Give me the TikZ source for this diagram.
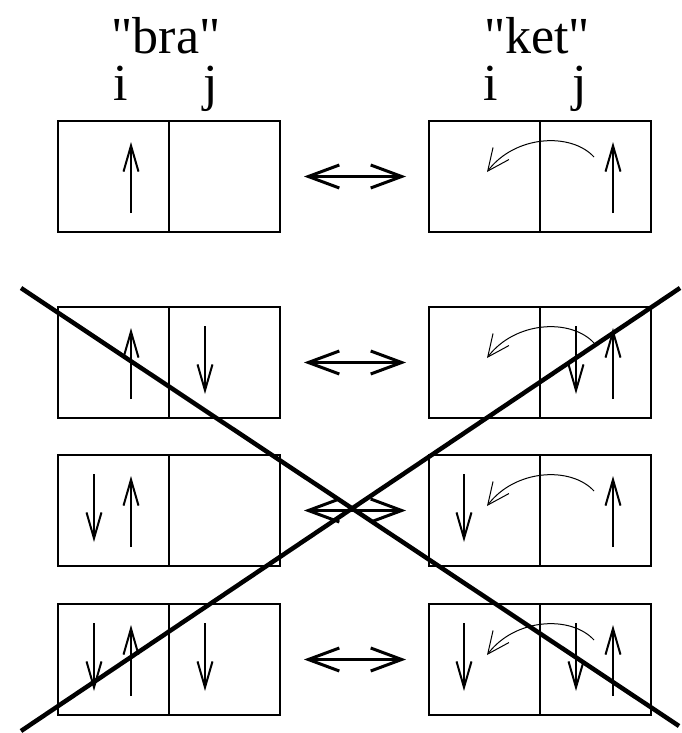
\documentclass[tikz,border=0pt]{standalone}
\usepackage{fontspec}
\setmainfont{Liberation Serif}[Ligatures=TeXOff]
\usetikzlibrary{arrows.meta}
\begin{document}
\begin{tikzpicture}[x=1pt,y=-1pt,
  cell/.style={draw,line width=2pt,minimum width=111pt,minimum height=111pt,inner sep=0pt,anchor=north west},
  lbl/.style={anchor=base,inner sep=0pt,font=\fontsize{52}{58}\selectfont},
  spin/.style={line width=2pt,-{Straight Barb[length=26pt,width=15pt,line width=2pt]}},
  hop/.style={line width=1pt,-{Straight Barb[length=22pt,width=20pt,line width=1pt]}},
  dbl/.style={line width=3pt,{Straight Barb[length=31pt,width=23pt,line width=3pt]}-{Straight Barb[length=31pt,width=23pt,line width=3pt]},shorten <=23pt,shorten >=22pt},
  cross/.style={line width=4.5pt}]
\useasboundingbox (0,0) rectangle (681,733);
% labels
\node[lbl] (bra) at (166,54) {"bra"};
\node[lbl] (ket) at (537,54) {"ket"};
\node[lbl] (bi) at (121,101) {i};
\node[lbl] (bj) at (211,101) {j};
\node[lbl] (ki) at (491,101) {i};
\node[lbl] (kj) at (580,101) {j};
% cells
\foreach \r/\t in {1/120,2/306,3/454,4/603}{
  \node[cell] (b\r i) at (57,\t) {};
  \node[cell] (b\r j) at (168,\t) {};
  \node[cell] (k\r i) at (428,\t) {};
  \node[cell] (k\r j) at (539,\t) {};
  \draw[dbl] (b\r j.east) -- (k\r i.west);
  % hopping arc in ket
  \coordinate (hs\r) at (594,\t+37);
  \coordinate (he\r) at (487,\t+52);
  \draw[hop] (hs\r) .. controls (571,\t+12) and (515,\t+15) .. (he\r);
}
% spin arrows
% row 1
\draw[spin] (131,213) -- (131,142);
\draw[spin] (613,213) -- (613,142);
% row 2
\draw[spin] (131,399) -- (131,328);
\draw[spin] (205,326) -- (205,394);
\draw[spin] (576,326) -- (576,394);
\draw[spin] (613,399) -- (613,328);
% row 3
\draw[spin] (94,474) -- (94,542);
\draw[spin] (131,547) -- (131,476);
\draw[spin] (464,474) -- (464,542);
\draw[spin] (613,547) -- (613,476);
% row 4
\draw[spin] (94,623) -- (94,691);
\draw[spin] (131,696) -- (131,625);
\draw[spin] (205,623) -- (205,691);
\draw[spin] (464,623) -- (464,691);
\draw[spin] (576,623) -- (576,691);
\draw[spin] (613,696) -- (613,625);
% cross
\coordinate (c1a) at (21,288);
\coordinate (c1b) at (679,726);
\coordinate (c2a) at (21,731);
\coordinate (c2b) at (680,288);
\draw[cross] (c1a) -- (c1b);
\draw[cross] (c2a) -- (c2b);
\end{tikzpicture}
\end{document}
